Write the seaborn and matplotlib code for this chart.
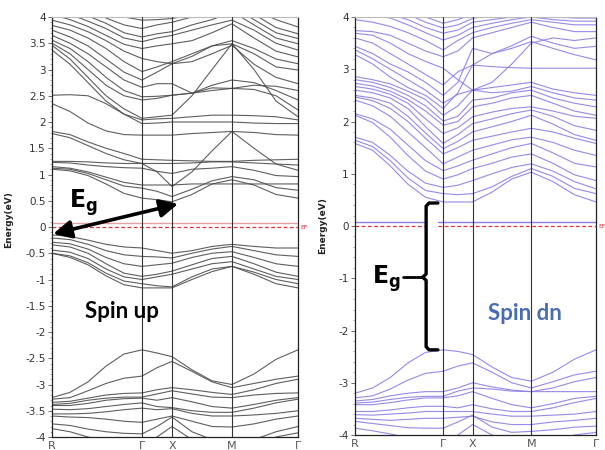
import numpy as np
import pandas as pd
import matplotlib
matplotlib.use("Agg")
import matplotlib.pyplot as plt
import seaborn as sns

# ---------------- data ----------------
k_labels = ["R", "Γ", "X", "M", "Γ"]
k_ticks = [0.0, 1.5, 2.0, 3.0, 4.1]
k_samples = [0.0, 0.3, 0.6, 0.9, 1.2, 1.5, 1.75, 2.0, 2.333, 2.667, 3.0, 3.367, 3.733, 4.1]

# Spin up: conduction bands
up_conduction = [
    [1.10, 1.07, 0.98, 0.82, 0.64, 0.55, 0.52, 0.48, 0.62, 0.82, 0.90, 0.80, 0.62, 0.55],
    [1.12, 1.10, 1.02, 0.90, 0.78, 0.74, 0.68, 0.58, 0.72, 0.88, 0.96, 0.90, 0.75, 0.70],
    [1.15, 1.12, 1.05, 0.95, 0.85, 0.80, 0.80, 0.80, 0.82, 0.82, 0.82, 0.82, 0.82, 0.82],
    [1.23, 1.22, 1.18, 1.15, 1.13, 1.12, 1.06, 1.02, 1.10, 1.12, 1.15, 1.08, 0.98, 0.96],
    [1.25, 1.25, 1.24, 1.22, 1.21, 1.21, 1.21, 1.21, 1.22, 1.24, 1.24, 1.22, 1.20, 1.18],
    [1.78, 1.70, 1.55, 1.40, 1.28, 1.21, 1.05, 0.77, 1.05, 1.45, 1.82, 1.50, 1.20, 1.08],
    [1.82, 1.76, 1.62, 1.50, 1.40, 1.29, 1.28, 1.27, 1.26, 1.25, 1.25, 1.27, 1.28, 1.29],
    [2.35, 2.20, 1.98, 1.83, 1.76, 1.75, 1.75, 1.75, 1.78, 1.80, 1.82, 1.80, 1.76, 1.75],
    [2.51, 2.52, 2.50, 2.35, 2.15, 1.97, 1.98, 2.00, 2.00, 2.00, 2.00, 1.98, 1.97, 1.97],
    [3.37, 3.10, 2.75, 2.40, 2.15, 2.04, 2.06, 2.07, 2.10, 2.13, 2.13, 2.12, 2.10, 2.04],
    [3.46, 3.20, 2.85, 2.50, 2.25, 2.07, 2.10, 2.13, 2.50, 3.00, 3.49, 3.00, 2.40, 2.10],
    [3.50, 3.30, 3.00, 2.70, 2.50, 2.42, 2.45, 2.51, 2.55, 2.60, 2.64, 2.62, 2.50, 2.23],
    [3.56, 3.40, 3.15, 2.85, 2.60, 2.48, 2.49, 2.51, 2.55, 2.70, 2.80, 2.75, 2.60, 2.42],
    [3.65, 3.50, 3.30, 3.05, 2.80, 2.66, 2.73, 2.73, 2.55, 2.65, 2.64, 2.70, 2.68, 2.60],
    [3.75, 3.62, 3.45, 3.20, 2.95, 2.80, 2.95, 3.11, 3.15, 3.30, 3.46, 3.10, 2.85, 2.73],
    [3.84, 3.75, 3.60, 3.40, 3.15, 2.96, 3.05, 3.15, 3.30, 3.45, 3.49, 3.30, 3.05, 2.99],
    [3.94, 3.85, 3.72, 3.55, 3.35, 3.21, 3.15, 3.11, 3.25, 3.45, 3.55, 3.40, 3.20, 3.11],
    [4.05, 3.95, 3.82, 3.65, 3.48, 3.40, 3.45, 3.49, 3.55, 3.70, 3.87, 3.60, 3.35, 3.24],
    [4.15, 4.05, 3.92, 3.78, 3.60, 3.53, 3.60, 3.65, 3.75, 3.85, 3.94, 3.75, 3.50, 3.37],
    [4.25, 4.15, 4.02, 3.88, 3.70, 3.62, 3.68, 3.72, 3.85, 3.95, 4.10, 3.85, 3.60, 3.49],
    [4.35, 4.25, 4.12, 3.98, 3.85, 3.78, 3.85, 3.90, 4.00, 4.10, 4.20, 3.95, 3.70, 3.59],
    [4.45, 4.35, 4.22, 4.10, 4.00, 3.94, 3.95, 3.97, 4.05, 4.20, 4.30, 4.05, 3.80, 3.68],
    [4.55, 4.45, 4.30, 4.20, 4.10, 4.05, 4.05, 4.05, 4.10, 4.25, 4.40, 4.15, 3.95, 3.81],
]
# Spin up: upper valence bands
up_valence = [
    [-0.15, -0.18, -0.25, -0.33, -0.38, -0.40, -0.45, -0.50, -0.45, -0.37, -0.33, -0.37, -0.40, -0.40],
    [-0.21, -0.24, -0.33, -0.45, -0.53, -0.56, -0.57, -0.59, -0.50, -0.42, -0.37, -0.45, -0.53, -0.56],
    [-0.29, -0.32, -0.42, -0.58, -0.70, -0.75, -0.72, -0.69, -0.58, -0.50, -0.47, -0.58, -0.70, -0.75],
    [-0.34, -0.38, -0.50, -0.70, -0.88, -0.94, -0.90, -0.84, -0.72, -0.60, -0.56, -0.70, -0.86, -0.94],
    [-0.44, -0.48, -0.60, -0.80, -0.95, -1.00, -0.95, -0.90, -0.80, -0.70, -0.66, -0.80, -0.94, -1.00],
    [-0.50, -0.55, -0.68, -0.88, -1.03, -1.08, -1.12, -1.14, -0.95, -0.80, -0.75, -0.86, -1.00, -1.08],
    [-0.50, -0.58, -0.72, -0.93, -1.10, -1.16, -1.16, -1.16, -1.00, -0.85, -0.75, -0.90, -1.08, -1.16],
]
# Spin up: lower valence bands
up_lower = [
    [-3.25, -3.15, -2.95, -2.65, -2.42, -2.34, -2.40, -2.47, -2.72, -2.93, -3.00, -2.80, -2.52, -2.34],
    [-3.28, -3.25, -3.12, -2.98, -2.88, -2.84, -2.68, -2.56, -2.75, -2.95, -3.06, -2.98, -2.90, -2.84],
    [-3.34, -3.32, -3.26, -3.20, -3.17, -3.16, -3.10, -3.06, -3.10, -3.15, -3.19, -3.10, -2.98, -2.90],
    [-3.38, -3.36, -3.30, -3.26, -3.24, -3.24, -3.18, -3.12, -3.18, -3.24, -3.25, -3.20, -3.17, -3.16],
    [-3.40, -3.40, -3.36, -3.30, -3.27, -3.26, -3.30, -3.25, -3.33, -3.42, -3.45, -3.38, -3.30, -3.25],
    [-3.47, -3.48, -3.46, -3.42, -3.38, -3.35, -3.42, -3.44, -3.50, -3.53, -3.53, -3.45, -3.35, -3.28],
    [-3.56, -3.56, -3.55, -3.52, -3.48, -3.45, -3.48, -3.46, -3.55, -3.60, -3.60, -3.58, -3.55, -3.50],
    [-3.60, -3.62, -3.63, -3.66, -3.70, -3.72, -3.66, -3.60, -3.70, -3.80, -3.81, -3.75, -3.66, -3.60],
    [-3.75, -3.78, -3.85, -3.90, -3.93, -3.94, -3.80, -3.62, -3.90, -4.05, -4.10, -4.05, -3.90, -3.80],
    [-3.84, -3.90, -4.00, -4.08, -4.15, -4.20, -4.00, -3.80, -4.05, -4.20, -4.25, -4.15, -4.00, -3.92],
]

# Spin down: conduction bands
dn_conduction = [
    [1.58, 1.45, 1.15, 0.80, 0.55, 0.46, 0.46, 0.46, 0.65, 0.90, 1.03, 0.85, 0.60, 0.46],
    [1.64, 1.52, 1.25, 0.92, 0.68, 0.62, 0.60, 0.62, 0.75, 0.95, 1.10, 0.95, 0.72, 0.62],
    [1.70, 1.60, 1.35, 1.05, 0.82, 0.74, 0.78, 0.87, 1.00, 1.12, 1.19, 1.05, 0.85, 0.71],
    [2.12, 1.98, 1.70, 1.35, 1.05, 0.90, 0.98, 1.10, 1.20, 1.32, 1.38, 1.20, 0.98, 0.87],
    [2.15, 2.05, 1.85, 1.55, 1.25, 1.06, 1.15, 1.26, 1.38, 1.50, 1.58, 1.40, 1.20, 1.13],
    [2.41, 2.30, 2.10, 1.80, 1.50, 1.19, 1.32, 1.45, 1.55, 1.65, 1.70, 1.60, 1.45, 1.35],
    [2.47, 2.40, 2.25, 2.00, 1.68, 1.38, 1.50, 1.64, 1.72, 1.80, 1.87, 1.80, 1.68, 1.58],
    [2.50, 2.45, 2.35, 2.10, 1.78, 1.48, 1.62, 1.80, 1.90, 2.00, 2.12, 1.95, 1.75, 1.64],
    [2.60, 2.55, 2.45, 2.25, 1.90, 1.58, 1.75, 1.96, 2.05, 2.15, 2.22, 2.10, 1.92, 1.83],
    [2.67, 2.62, 2.52, 2.35, 2.05, 1.77, 1.88, 2.09, 2.18, 2.25, 2.28, 2.20, 2.10, 2.06],
    [2.73, 2.68, 2.58, 2.42, 2.20, 1.93, 2.00, 2.28, 2.35, 2.45, 2.50, 2.35, 2.20, 2.12],
    [2.80, 2.75, 2.65, 2.50, 2.30, 2.01, 2.10, 2.41, 2.45, 2.55, 2.60, 2.45, 2.35, 2.28],
    [2.86, 2.80, 2.72, 2.58, 2.42, 2.12, 2.30, 2.60, 2.55, 2.58, 2.67, 2.55, 2.45, 2.41],
    [3.28, 3.10, 2.85, 2.65, 2.50, 2.25, 2.55, 3.08, 3.05, 3.03, 3.02, 3.02, 3.02, 3.02],
    [3.37, 3.20, 3.00, 2.80, 2.60, 2.35, 2.52, 2.60, 2.65, 2.70, 2.75, 2.62, 2.55, 2.50],
    [3.44, 3.30, 3.10, 2.95, 2.75, 2.50, 2.75, 3.40, 3.30, 3.40, 3.53, 3.40, 3.28, 3.18],
    [3.60, 3.50, 3.30, 3.10, 2.90, 2.70, 2.95, 3.08, 3.30, 3.45, 3.63, 3.50, 3.40, 3.44],
    [3.69, 3.65, 3.50, 3.30, 3.15, 3.02, 2.80, 2.60, 2.75, 3.10, 3.50, 3.60, 3.55, 3.60],
    [3.74, 3.72, 3.65, 3.50, 3.35, 3.24, 3.35, 3.60, 3.70, 3.80, 3.90, 3.80, 3.72, 3.72],
    [3.95, 3.90, 3.82, 3.70, 3.55, 3.37, 3.55, 3.70, 3.80, 3.88, 3.95, 3.90, 3.85, 3.85],
    [4.10, 4.05, 3.98, 3.85, 3.70, 3.56, 3.65, 3.80, 3.88, 3.95, 4.00, 3.95, 3.92, 3.92],
    [4.20, 4.15, 4.05, 3.95, 3.80, 3.69, 3.75, 3.90, 3.95, 4.00, 4.05, 4.00, 3.98, 3.98],
    [4.30, 4.25, 4.15, 4.05, 3.90, 3.79, 3.85, 3.97, 4.05, 4.10, 4.15, 4.10, 4.05, 4.05],
    [4.40, 4.35, 4.25, 4.15, 4.00, 3.88, 3.95, 4.05, 4.10, 4.15, 4.20, 4.15, 4.10, 4.10],
]
# Spin down: valence bands
dn_valence = [
    [-3.20, -3.10, -2.90, -2.62, -2.42, -2.37, -2.40, -2.46, -2.70, -2.90, -2.97, -2.80, -2.55, -2.37],
    [-3.29, -3.25, -3.12, -2.95, -2.82, -2.78, -2.68, -2.62, -2.80, -3.00, -3.10, -2.98, -2.85, -2.78],
    [-3.35, -3.32, -3.25, -3.20, -3.17, -3.17, -3.10, -3.00, -3.08, -3.14, -3.17, -3.10, -2.98, -2.90],
    [-3.39, -3.37, -3.32, -3.28, -3.26, -3.26, -3.16, -3.10, -3.12, -3.16, -3.17, -3.17, -3.17, -3.17],
    [-3.42, -3.42, -3.38, -3.33, -3.29, -3.29, -3.25, -3.17, -3.30, -3.42, -3.48, -3.40, -3.30, -3.26],
    [-3.55, -3.55, -3.52, -3.48, -3.45, -3.45, -3.48, -3.42, -3.50, -3.55, -3.55, -3.48, -3.38, -3.30],
    [-3.61, -3.62, -3.60, -3.58, -3.55, -3.55, -3.55, -3.55, -3.60, -3.64, -3.64, -3.62, -3.60, -3.55],
    [-3.68, -3.70, -3.72, -3.70, -3.68, -3.68, -3.66, -3.64, -3.75, -3.80, -3.80, -3.75, -3.72, -3.68],
    [-3.74, -3.78, -3.82, -3.86, -3.87, -3.87, -3.75, -3.62, -3.85, -3.95, -3.93, -3.90, -3.85, -3.83],
    [-3.87, -3.92, -3.98, -4.05, -4.10, -4.15, -4.00, -3.80, -4.00, -4.10, -4.15, -4.10, -4.00, -3.95],
]


def long_form(groups):
    rows = []
    b = 0
    for grp in groups:
        for band in grp:
            for kk, e in zip(k_samples, band):
                rows.append({"k": kk, "E": e, "band": b})
            b += 1
    return pd.DataFrame(rows)


df_up = long_form([up_conduction, up_valence, up_lower])
df_dn = long_form([dn_conduction, dn_valence])

# ---------------- figure ----------------
sns.set_theme(style="white")
plt.rcParams["font.family"] = ["DejaVu Sans"]

fig = plt.figure(figsize=(6.05, 4.5), dpi=100)
fig.patch.set_facecolor("white")
ax1 = fig.add_axes([52 / 605, 1 - 437 / 450, 246 / 605, 420 / 450])
ax2 = fig.add_axes([355 / 605, 1 - 435 / 450, 241 / 605, 418 / 450])

up_color = "#4d4d4d"
dn_color = "#8c7ce6"

sns.lineplot(data=df_up, x="k", y="E", units="band", estimator=None, sort=False,
             color=up_color, lw=0.8, alpha=0.9, ax=ax1, legend=False)
sns.lineplot(data=df_dn, x="k", y="E", units="band", estimator=None, sort=False,
             color=dn_color, lw=0.8, alpha=0.9, ax=ax2, legend=False)

for ax, major, minor, sub_color in [(ax1, 0.5, 0.1, "#e28a8a"), (ax2, 1.0, 0.2, dn_color)]:
    ax.set_xlim(k_ticks[0], k_ticks[-1])
    ax.set_ylim(-4, 4)
    for kk in k_ticks[1:-1]:
        ax.axvline(kk, color="#333333", lw=0.8, zorder=3)
    ax.set_xticks(k_ticks)
    ax.set_xticklabels(k_labels)
    ax.tick_params(axis="x", length=0, pad=3, labelsize=8, labelcolor="#555555")
    ax.set_yticks(np.arange(-4, 4.001, major))
    ax.set_yticks(np.arange(-4, 4.001, minor), minor=True)
    ax.set_yticklabels([("%g" % v) for v in np.arange(-4, 4.001, major)])
    ax.tick_params(axis="y", which="major", direction="out", length=3, width=0.6,
                   labelsize=7.5, labelcolor="#333333", color="#555555", left=True, pad=1.5)
    ax.tick_params(axis="y", which="minor", direction="out", length=1.5, width=0.5,
                   color="#888888", left=True)
    ax.set_xlabel("")
    for side in ["left", "right", "bottom"]:
        ax.spines[side].set_color("#222222")
        ax.spines[side].set_linewidth(0.9)
    ax.spines["top"].set_color("#bbbbbb")
    ax.spines["top"].set_linewidth(0.8)
    ax.set_ylabel("Energy(eV)", fontsize=6.5, fontweight="bold", color="#222222")
    ax.text(1.008, 0.0, "EF", color="#e0303a", fontsize=4.5, transform=ax.get_yaxis_transform(),
            va="center", ha="left")

ax1.yaxis.set_label_coords(-0.16, 0.517)
ax2.yaxis.set_label_coords(-0.115, 0.50)

# Fermi level lines
ax1.axhline(0.07, color="#e8a0a0", lw=1.0, zorder=2)
ax1.axhline(0.0, color="#e0303a", lw=0.9, ls=(0, (3, 2)), zorder=2)
for x0, x1 in [(0.0, 1.19), (1.41, 4.1)]:
    ax2.plot([x0, x1], [0.08, 0.08], color=dn_color, lw=1.0, zorder=2)
    ax2.plot([x0, x1], [0.0, 0.0], color="#e0303a", lw=0.9, ls=(0, (3, 2)), zorder=2)

# Annotations (left)
ann_font = ["Lato", "DejaVu Sans"]
ax1.annotate("", xy=(0.02, -0.13), xytext=(2.1, 0.44),
             arrowprops=dict(arrowstyle="<|-|>,head_length=0.9,head_width=0.45",
                             lw=2.6, color="black", mutation_scale=12,
                             shrinkA=0, shrinkB=0), zorder=6)
ax1.text(0.52, 0.46, r"$\mathbf{E_g}$", fontsize=17, color="black", ha="center", va="center",
         zorder=6)
ax1.text(1.17, -1.6, "Spin up", fontsize=16, fontweight="bold", family=ann_font,
         color="black", ha="center", va="center", zorder=6)

# Annotations (right)
bx, bx_end, tip = 1.21, 1.41, 1.15
ax2.plot([bx_end, bx + 0.05, bx, bx, tip, bx, bx, bx + 0.05, bx_end],
         [0.44, 0.44, 0.38, -0.92, -0.98, -1.04, -2.31, -2.37, -2.37],
         color="black", lw=2.4, solid_joinstyle="round", zorder=6)
ax2.plot([0.82, tip], [-0.98, -0.98], color="black", lw=2.0, zorder=6)
ax2.text(0.53, -1.0, r"$\mathbf{E_g}$", fontsize=17, color="black", ha="center", va="center",
         zorder=6)
ax2.text(2.89, -1.67, "Spin dn", fontsize=16, fontweight="bold", family=ann_font,
         color="#4a6cb3", ha="center", va="center", zorder=6)

fig.savefig("out.png", dpi=100, facecolor="white")
